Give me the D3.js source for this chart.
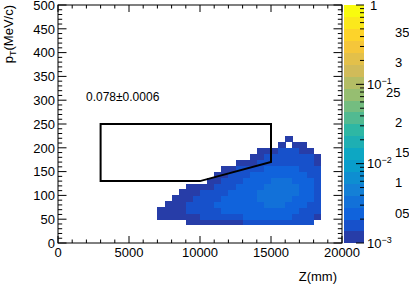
<!DOCTYPE html>
<html><head><meta charset="utf-8">
<script src="https://cdn.jsdelivr.net/npm/d3@7"></script>
<style>body{margin:0;background:#fff} svg{display:block} text{font-family:"Liberation Sans",Arial,sans-serif;fill:#000}</style>
</head><body><svg id="c" width="409" height="285"></svg>
<script>
// ---- data ----
const zRange = [0, 20000];
const ptRange = [0, 500];
const zBinWidth = 500;       // mm
const ptBinWidth = 12.5;     // MeV/c
const zFirstEdge = 7000;     // left edge of first column in density
const ptFirstEdge = 37.5;    // lower edge of first row in density
// density rows, bottom (pT 37.5-50) to top (pT 212.5-225); z bins 7000..18500 (0 = empty)
const density = [
  [0,0,0,0,0.0012,0.0012,0.0012,0.0012,0.0012,0.0012,0.0012,0.0012,0.0017,0.0017,0.0017,0.0017,0.0017,0.0017,0.0017,0.0017,0.0017,0.0017,0],
  [0.0012,0.0012,0.0012,0.0012,0.0012,0.0012,0.0017,0.0017,0.0017,0.0017,0.0017,0.0017,0.0024,0.0024,0.0024,0.0024,0.0024,0.0024,0.0024,0.0017,0.0017,0.0017,0.0012],
  [0.0012,0.0012,0.0012,0.0012,0.0017,0.0017,0.0017,0.0017,0.0017,0.0024,0.0024,0.0024,0.0024,0.0024,0.0024,0.0024,0.0024,0.0024,0.0024,0.0024,0.0017,0.0017,0.0017],
  [0,0.0012,0.0012,0.0012,0.0017,0.0017,0.0017,0.0017,0.0024,0.0024,0.0024,0.0024,0.0024,0.0024,0.0024,0.0034,0.0034,0.0034,0.0024,0.0024,0.0024,0.0017,0.0017],
  [0,0,0.0012,0.0012,0.0012,0.0017,0.0017,0.0017,0.0017,0.0024,0.0024,0.0024,0.0024,0.0024,0.0034,0.0034,0.0034,0.0034,0.0034,0.0024,0.0024,0.0024,0.0017],
  [0,0,0,0.0012,0.0012,0.0012,0.0017,0.0017,0.0017,0.0017,0.0024,0.0024,0.0024,0.0024,0.0034,0.0034,0.0034,0.0034,0.0034,0.0034,0.0024,0.0024,0.0017],
  [0,0,0,0,0.0012,0.0012,0.0012,0.0012,0.0017,0.0017,0.0017,0.0024,0.0024,0.0024,0.0024,0.0034,0.0034,0.0034,0.0034,0.0034,0.0024,0.0024,0.0017],
  [0,0,0,0,0,0,0,0.0012,0.0012,0.0017,0.0017,0.0017,0.0024,0.0024,0.0024,0.0024,0.0034,0.0034,0.0034,0.0024,0.0024,0.0024,0.0017],
  [0,0,0,0,0,0,0,0,0.0012,0.0012,0.0017,0.0017,0.0017,0.0024,0.0024,0.0024,0.0024,0.0024,0.0024,0.0024,0.0024,0.0017,0.0017],
  [0,0,0,0,0,0,0,0,0,0.0012,0.0012,0.0017,0.0017,0.0017,0.0017,0.0024,0.0024,0.0024,0.0024,0.0024,0.0017,0.0017,0.0017],
  [0,0,0,0,0,0,0,0,0,0,0,0.0012,0.0012,0.0012,0.0017,0.0017,0.0017,0.0017,0.0017,0.0017,0.0017,0.0017,0.0012],
  [0,0,0,0,0,0,0,0,0,0,0,0,0,0.0012,0.0012,0.0017,0.0017,0.0017,0.0017,0.0017,0.0017,0.0017,0.0012],
  [0,0,0,0,0,0,0,0,0,0,0,0,0,0,0.0012,0.0012,0.0012,0.0017,0.0017,0.0017,0.0012,0.0012,0],
  [0,0,0,0,0,0,0,0,0,0,0,0,0,0,0,0,0,0.0012,0,0.0012,0.0012,0,0],
  [0,0,0,0,0,0,0,0,0,0,0,0,0,0,0,0,0,0,0.0012,0,0,0,0]
];
const xTickValues = [0, 5000, 10000, 15000, 20000];
const yTickValues = [0, 50, 100, 150, 200, 250, 300, 350, 400, 450, 500];
const cutBox = [[3000,130],[3000,250],[15000,250],[15000,170],[10000,130]];
const annotation = "0.078\u00b10.0006";
const colorDomain = [0.001, 1];
const colorDecadeLabels = [{v:1, base:"1", exp:""}, {v:0.1, base:"10", exp:"\u22121"}, {v:0.01, base:"10", exp:"\u22122"}, {v:0.001, base:"10", exp:"\u22123"}];
const extraLabelText = ["35", "3", "25", "2", "15", "1", "05"];
const extraLabelValue = [0.35, 0.30, 0.25, 0.20, 0.15, 0.10, 0.05];
const extraLabelDomain = [0, 0.395];
const nContours = 20;

// ---- layout ----
const svg = d3.select("#c");
const L = 58, R = 342, T = 5, B = 243;
const cbL = 344, cbR = 364;
const x = d3.scaleLinear().domain(zRange).range([L, R]);
const y = d3.scaleLinear().domain(ptRange).range([B, T]);
const zc = d3.scaleLog().domain(colorDomain).range([B, T]);

// kBird palette
const birdStops = [0, .125, .25, .375, .5, .625, .75, .875, 1];
const birdR = [0.2082,0.0592,0.0780,0.0232,0.1802,0.5301,0.8186,0.9956,0.9764];
const birdG = [0.1664,0.3599,0.5041,0.6419,0.7178,0.7492,0.7328,0.7862,0.9832];
const birdB = [0.5293,0.8684,0.8385,0.7914,0.6425,0.4662,0.3499,0.1968,0.0539];
const sR = d3.scaleLinear().domain(birdStops).range(birdR);
const sG = d3.scaleLinear().domain(birdStops).range(birdG);
const sB = d3.scaleLinear().domain(birdStops).range(birdB);
const bird = f => d3.rgb(255*sR(f), 255*sG(f), 255*sB(f)).toString();
const levelColor = i => bird(Math.floor((i + 0.99) * 255 / nContours) / 254);
const levelOf = v => Math.max(0, Math.min(nContours - 1, Math.floor((Math.log10(v) - Math.log10(colorDomain[0])) / (Math.log10(colorDomain[1]) - Math.log10(colorDomain[0])) * nContours)));

// cells
const cells = [];
density.forEach((row, r) => row.forEach((v, c) => {
  if (v > 0) cells.push({z0: zFirstEdge + c*zBinWidth, p0: ptFirstEdge + r*ptBinWidth, v});
}));
svg.append("g").selectAll("rect").data(cells).join("rect")
  .attr("x", d => x(d.z0)).attr("y", d => y(d.p0 + ptBinWidth))
  .attr("width", d => x(d.z0 + zBinWidth) - x(d.z0) + 0.3)
  .attr("height", d => y(d.p0) - y(d.p0 + ptBinWidth) + 0.3)
  .attr("fill", d => levelColor(levelOf(d.v)))
  .attr("shape-rendering", "crispEdges");

// frame
svg.append("rect").attr("x", L).attr("y", T).attr("width", R-L).attr("height", B-T)
  .attr("fill", "none").attr("stroke", "#000").attr("stroke-width", 1);

// ticks
const tk = svg.append("g").attr("stroke", "#000").attr("stroke-width", 1);
d3.range(0, 20001, 1000).forEach(v => {
  const len = v % 5000 === 0 ? 7 : 3.5;
  tk.append("line").attr("x1", x(v)).attr("x2", x(v)).attr("y1", B).attr("y2", B - len);
  tk.append("line").attr("x1", x(v)).attr("x2", x(v)).attr("y1", T).attr("y2", T + len);
});
d3.range(0, 501, 10).forEach(v => {
  const len = v % 50 === 0 ? 8.5 : 4.2;
  tk.append("line").attr("x1", L).attr("x2", L + len).attr("y1", y(v)).attr("y2", y(v));
  tk.append("line").attr("x1", R).attr("x2", R - len).attr("y1", y(v)).attr("y2", y(v));
});

// tick labels
svg.append("g").selectAll("text").data(xTickValues).join("text")
  .attr("x", d => x(d)).attr("y", 257).attr("text-anchor", "middle")
  .attr("font-size", 13).text(d => d);
svg.append("g").selectAll("text").data(yTickValues).join("text")
  .attr("x", 55).attr("y", d => y(d) + 4.7).attr("text-anchor", "end")
  .attr("font-size", 13).text(d => d);

// axis titles
svg.append("text").attr("x", 337).attr("y", 281).attr("text-anchor", "end")
  .attr("font-size", 13).text("Z(mm)");
const yt = svg.append("text").attr("transform", "translate(13,5) rotate(-90)")
  .attr("text-anchor", "end").attr("font-size", 13);
yt.append("tspan").text("p");
yt.append("tspan").attr("font-size", 9).attr("dy", 3).text("T");
yt.append("tspan").attr("dy", -3).text("(MeV/c)");

// cut box
svg.append("path").datum(cutBox)
  .attr("d", d3.line().x(d => x(d[0])).y(d => y(d[1])).curve(d3.curveLinearClosed))
  .attr("fill", "none").attr("stroke", "#000").attr("stroke-width", 2);

// annotation
svg.append("text").attr("x", 86).attr("y", 101).attr("font-size", 12).text(annotation);

// color bar
const bands = d3.range(nContours);
const step = (B - T) / nContours;
svg.append("g").selectAll("rect").data(bands).join("rect")
  .attr("x", cbL).attr("width", cbR - cbL)
  .attr("y", d => B - (d + 1) * step).attr("height", step + 0.3)
  .attr("fill", d => levelColor(d)).attr("shape-rendering", "crispEdges");
const cbt = svg.append("g").attr("stroke", "#000").attr("stroke-width", 1);
[0.001, 0.01, 0.1].forEach(dec => {
  d3.range(1, 10).forEach(m => {
    const v = dec * m;
    const len = m === 1 ? 8 : 4;
    cbt.append("line").attr("x1", cbR).attr("x2", cbR - len).attr("y1", zc(v)).attr("y2", zc(v));
  });
});
cbt.append("line").attr("x1", cbR).attr("x2", cbR - 8).attr("y1", zc(1)).attr("y2", zc(1));
const dl = svg.append("g").selectAll("text").data(colorDecadeLabels).join("text")
  .attr("x", d => d.exp ? 367 : 370).attr("y", d => zc(d.v) + 4.7).attr("font-size", 13);
dl.append("tspan").text(d => d.base);
dl.append("tspan").attr("font-size", 9).attr("dy", -5).text(d => d.exp);
const ex = d3.scaleLinear().domain(extraLabelDomain).range([B, T]);
svg.append("g").selectAll("text").data(extraLabelText).join("text")
  .attr("x", (d, i) => d === "25" ? 386 : 395)
  .attr("y", (d, i) => ex(extraLabelValue[i]) + 4.7).attr("font-size", 13).text(d => d);
</script></body></html>
